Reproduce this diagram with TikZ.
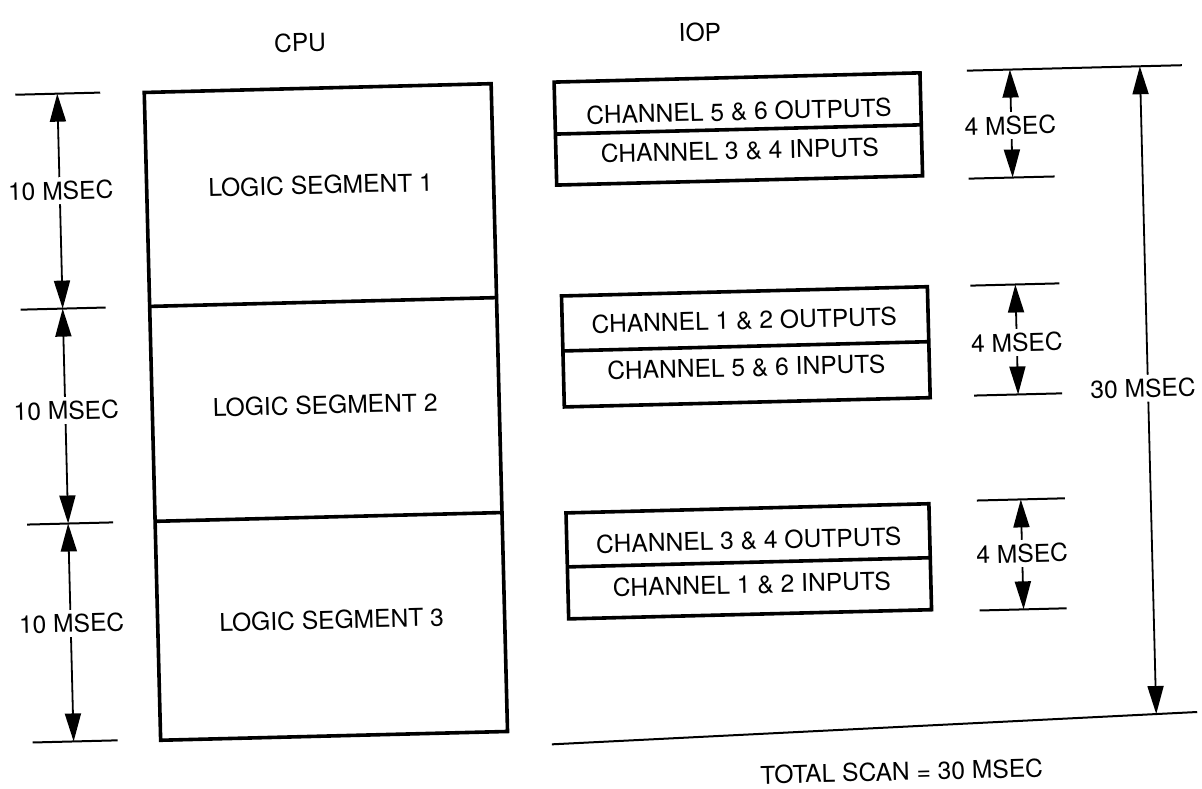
\documentclass[tikz,border=0pt]{standalone}
\usepackage{fontspec}
\setmainfont{TeX Gyre Heros}
\usetikzlibrary{arrows.meta}
\begin{document}
\begin{tikzpicture}[x=0.5pt,y=-0.5pt,
  boxline/.style={line width=1.8pt},
  tickline/.style={line width=1pt},
  dimarrow/.style={line width=0.9pt,{Triangle[length=14pt,width=8pt]}-{Triangle[length=14pt,width=8pt]}},
  lbl/.style={font=\fontsize{12.3}{14}\selectfont, inner sep=1pt},
  dimlbl/.style={lbl, fill=white, inner sep=2pt}
]
\useasboundingbox (0,0) rectangle (1202,788);
\begin{scope}[rotate around={1.45:(601,394)}, transform shape]
  % headings
  \node[lbl] (cpu) at (309,35) {CPU};
  \node[lbl] (iop) at (709,35) {IOP};

  % CPU column
  \draw[boxline] (152,81) rectangle (499,729);
  \draw[boxline] (152,295) -- (499,295);
  \draw[boxline] (152,510) -- (499,510);
  \node[lbl] (seg1) at (326,178) {LOGIC SEGMENT 1};
  \node[lbl] (seg2) at (325,398) {LOGIC SEGMENT 2};
  \node[lbl] (seg3) at (326,613) {LOGIC SEGMENT 3};

  % left dimensions
  \coordinate (L0) at (65,80);
  \coordinate (L1) at (65,295);
  \coordinate (L2) at (65,510);
  \coordinate (L3) at (65,728);
  \draw[tickline] (23,80) -- (108,80);
  \draw[tickline] (23,295) -- (108,295);
  \draw[tickline] (24,510) -- (110,510);
  \draw[tickline] (24,728) -- (109,728);
  \draw[dimarrow] (L0) -- (L1);
  \draw[dimarrow] (L1) -- (L2);
  \draw[dimarrow] (L2) -- (L3);
  \node[dimlbl] (d1) at (66,177) {10 MSEC};
  \node[dimlbl] (d2) at (66,397) {10 MSEC};
  \node[dimlbl] (d3) at (66,610) {10 MSEC};

  % IOP boxes
  \draw[boxline] (562,81) rectangle (928,184);
  \draw[boxline] (562,133) -- (928,133);
  \node[lbl] (o56) at (746,115) {CHANNEL 5 \& 6 OUTPUTS};
  \node[lbl] (i34) at (746,154) {CHANNEL 3 \& 4 INPUTS};

  \draw[boxline] (564,295) rectangle (930,406);
  \draw[boxline] (564,350) -- (930,350);
  \node[lbl] (o12) at (746,324) {CHANNEL 1 \& 2 OUTPUTS};
  \node[lbl] (i56) at (747,371) {CHANNEL 5 \& 6 INPUTS};

  \draw[boxline] (563,512) rectangle (926,618);
  \draw[boxline] (563,566) -- (926,566);
  \node[lbl] (o34) at (745,544) {CHANNEL 3 \& 4 OUTPUTS};
  \node[lbl] (i12) at (747,588) {CHANNEL 1 \& 2 INPUTS};

  % right dimensions (4 MSEC)
  \coordinate (R1a) at (1018,80);
  \coordinate (R1b) at (1018,188);
  \coordinate (R2a) at (1018,295);
  \coordinate (R2b) at (1018,405);
  \coordinate (R3a) at (1018,510);
  \coordinate (R3b) at (1018,620);
  \draw[tickline] (975,80) -- (1190,80);
  \draw[tickline] (974,188) -- (1060,188);
  \draw[tickline] (973,295) -- (1062,295);
  \draw[tickline] (974,405) -- (1062,405);
  \draw[tickline] (974,510) -- (1062,510);
  \draw[tickline] (974,620) -- (1061,620);
  \draw[dimarrow] (R1a) -- (R1b);
  \draw[dimarrow] (R2a) -- (R2b);
  \draw[dimarrow] (R3a) -- (R3b);
  \node[dimlbl] (f1) at (1017,136) {4 MSEC};
  \node[dimlbl] (f2) at (1018,353) {4 MSEC};
  \node[dimlbl] (f3) at (1018,564) {4 MSEC};

  % total 30 MSEC
  \coordinate (Ta) at (1148,80);
  \coordinate (Tb) at (1148,728);
  \coordinate (BL) at (543,743);
  \coordinate (BR) at (1189,727);
  \draw[tickline] (BL) -- (BR);
  \draw[dimarrow] (Ta) -- (Tb);
  \node[dimlbl] (t30) at (1143,402) {30 MSEC};

  \node[lbl] (total) at (892,779) {TOTAL SCAN = 30 MSEC};
\end{scope}
\end{tikzpicture}
\end{document}
